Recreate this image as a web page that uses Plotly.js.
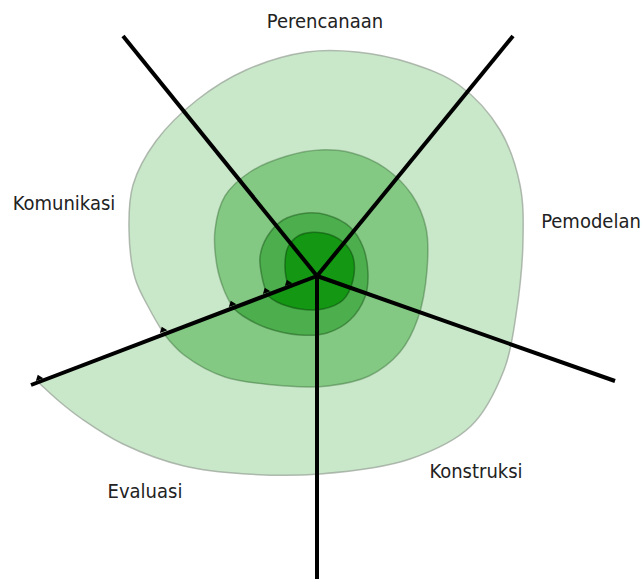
<!DOCTYPE html>
<html>
<head>
<meta charset="utf-8">
<script src="https://cdn.plot.ly/plotly-3.0.1.min.js"></script>
<style>html,body{margin:0;padding:0;background:#fff;}#chart{width:643px;height:579px;}</style>
</head>
<body>
<div id="chart"></div>
<script>
// Spiral model phases (labels)
const phaseLabels = ["Perencanaan", "Pemodelan", "Konstruksi", "Evaluasi", "Komunikasi"];
const labelX = [325, 591, 476, 145, 64];
const labelY = [23, 223, 473, 493, 205];

// Spokes (from centre to end)
const centerX = 317, centerY = 276;
const spokeEndX = [123, 513, 615, 317, 31];
const spokeEndY = [36, 36, 381, 579, 385];

// Spiral loops (outer to inner)
const loop1X = [38, 60, 82, 123, 184, 246, 320, 410, 471, 504, 516, 523, 520, 500, 459, 410, 357, 307, 246, 197, 156, 133, 129, 135, 150, 164];
const loop1Y = [382, 402, 419, 444, 466, 474, 474, 459, 426, 370, 315, 241, 185, 130, 85, 63, 52, 52, 70, 100, 141, 185, 230, 278, 310, 334];
const loop2X = [164, 184, 225, 287, 328, 369, 400, 418, 427, 426, 412, 385, 352, 320, 287, 250, 225, 215, 217, 224, 233];
const loop2Y = [334, 355, 377, 386, 386, 376, 352, 318, 270, 228, 195, 168, 153, 150, 156, 172, 196, 230, 266, 290, 308];
const loop3X = [233, 243, 267, 300, 327, 350, 365, 368, 363, 350, 327, 307, 283, 267, 260, 262, 267];
const loop3Y = [308, 316, 328, 335, 333, 320, 297, 273, 247, 227, 215, 213, 220, 237, 257, 277, 295];
const loop4X = [267, 277, 300, 323, 343, 353, 353, 343, 323, 300, 288, 285, 286, 289];
const loop4Y = [295, 302, 309, 309, 300, 280, 257, 242, 233, 235, 247, 263, 277, 287];

// Barbs where the spiral meets the Komunikasi/Evaluasi spoke
const barbX = [39, 163, 232, 266, 288];
const barbY = [378, 330, 304, 291, 283];

const loopFill = ["#c9e7c9", "#83c883", "#4cae4c", "#149814"];
const loopLine = ["rgba(150,160,150,0.7)", "rgba(60,110,60,0.45)", "rgba(30,90,30,0.5)", "rgba(10,70,10,0.5)"];
const loopsX = [loop1X, loop2X, loop3X, loop4X];
const loopsY = [loop1Y, loop2Y, loop3Y, loop4Y];

const traces = [];
for (let i = 0; i < 4; i++) {
  traces.push({
    type: "scatter", mode: "lines", x: loopsX[i], y: loopsY[i],
    fill: "toself", fillcolor: loopFill[i],
    line: {color: loopLine[i], width: 1.5, shape: "spline", smoothing: 1.0},
    hoverinfo: "skip", showlegend: false
  });
}
for (let i = 0; i < spokeEndX.length; i++) {
  traces.push({
    type: "scatter", mode: "lines", x: [centerX, spokeEndX[i]], y: [centerY, spokeEndY[i]],
    line: {color: "#000", width: 4}, hoverinfo: "skip", showlegend: false
  });
}
traces.push({
  type: "scatter", mode: "markers", x: barbX, y: barbY,
  marker: {symbol: "triangle-up", size: 7, color: "#000", angle: -21},
  hoverinfo: "skip", showlegend: false
});
traces.push({
  type: "scatter", mode: "text", x: labelX, y: labelY, text: phaseLabels,
  textposition: "middle center",
  textfont: {family: "DejaVu Sans Condensed, Liberation Sans Narrow, Arial Narrow, sans-serif", size: 20, color: "#222"},
  hoverinfo: "skip", showlegend: false
});

const layout = {
  width: 643, height: 579,
  margin: {l: 0, r: 0, t: 0, b: 0},
  paper_bgcolor: "#fff", plot_bgcolor: "#fff",
  xaxis: {range: [0, 643], visible: false, fixedrange: true},
  yaxis: {range: [579, 0], visible: false, fixedrange: true},
  showlegend: false
};
Plotly.newPlot("chart", traces, layout, {displayModeBar: false, staticPlot: true});
</script>
</body>
</html>
